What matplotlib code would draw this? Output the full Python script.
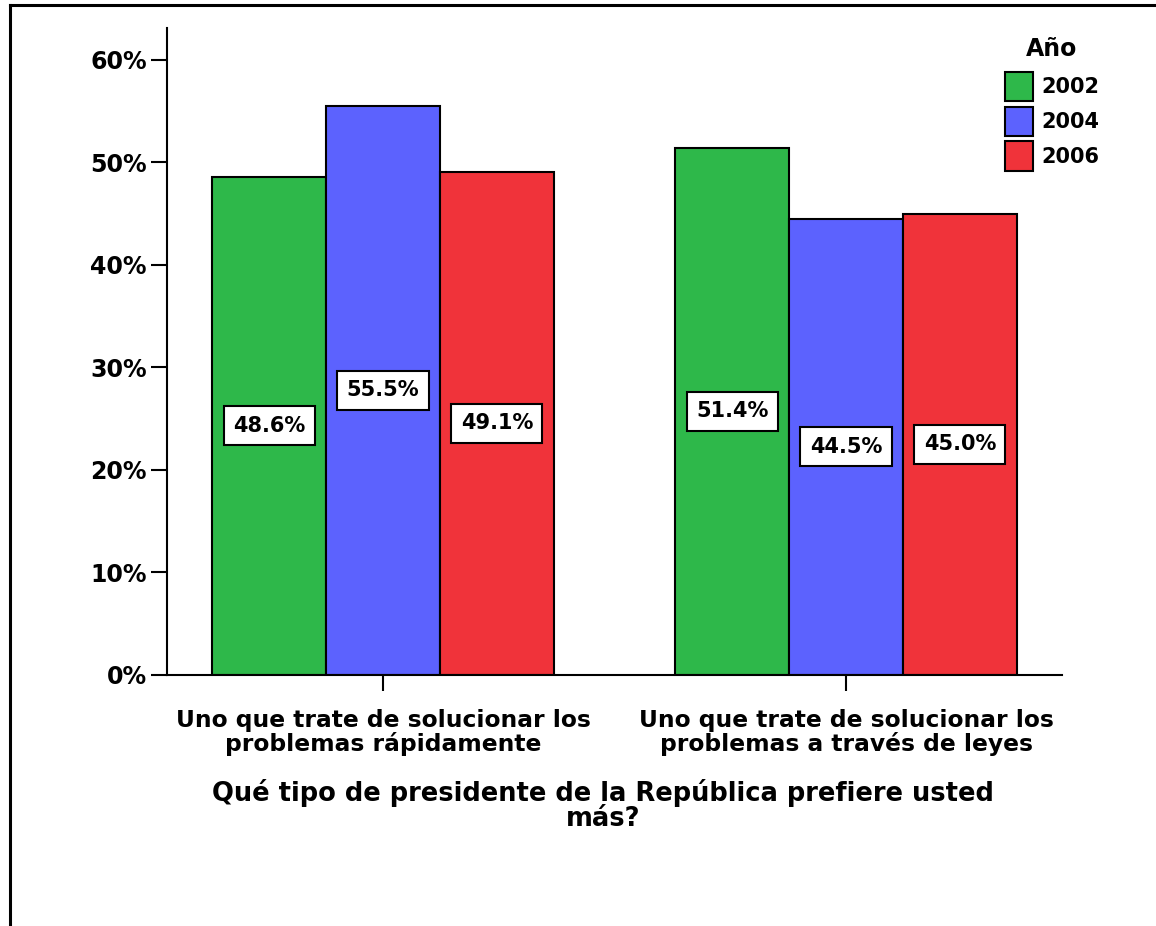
import matplotlib
matplotlib.use("Agg")
import matplotlib.pyplot as plt
from matplotlib.patches import Patch
import numpy as np

categories = ["Uno que trate de solucionar los\nproblemas rápidamente",
              "Uno que trate de solucionar los\nproblemas a través de leyes"]
years = ["2002", "2004", "2006"]
values = {
    "2002": [48.6, 51.4],
    "2004": [55.5, 44.5],
    "2006": [49.1, 45.0],
}
colors = {"2002": "#2EB84A", "2004": "#5C62FE", "2006": "#F0333A"}
yticks = [0, 10, 20, 30, 40, 50, 60]
xlabel = "Qué tipo de presidente de la República prefiere usted\nmás?"
legend_title = "Año"

FONT = ["DejaVu Sans"]
W = "bold"

fig = plt.figure(figsize=(11.56, 9.26), dpi=100)
ax = fig.add_axes([167/1156, 251/926, (1062-167)/1156, (675-28)/926])

x = np.arange(len(categories))
bw = 0.246
for i, yr in enumerate(years):
    xs = x + (i - 1) * bw
    ax.bar(xs, values[yr], width=bw, color=colors[yr], edgecolor="black", linewidth=1.5, zorder=2)
    for xi, v in zip(xs, values[yr]):
        ax.text(xi, v / 2, f"{v:.1f}%", ha="center", va="center", fontsize=15,
                family=FONT, weight=W, zorder=3,
                bbox=dict(boxstyle="square,pad=0.45", fc="white", ec="black", lw=1.5))

ax.set_xlim(-0.4665, 1.4665)
ax.set_ylim(0, 63.1)
ax.set_yticks(yticks)
ax.set_yticklabels([f"{t}%" for t in yticks], family=FONT, weight=W, fontsize=17)
ax.set_xticks(x)
ax.set_xticklabels(categories, family=FONT, weight=W, fontsize=16.8, linespacing=1.0)
ax.tick_params(axis="y", length=11.5, width=1.5, pad=3)
ax.tick_params(axis="x", length=11.5, width=1.5, pad=13)
for s in ["top", "right"]:
    ax.spines[s].set_visible(False)
for s in ["left", "bottom"]:
    ax.spines[s].set_linewidth(1.5)

fig.text(603/1156, 1 - 779/926, xlabel, ha="center", va="top", family=FONT, weight=W,
         fontsize=18.5, linespacing=0.95)

handles = [Patch(facecolor=colors[yr], edgecolor="black", linewidth=1.5, label=yr) for yr in years]
leg = fig.legend(handles=handles, title=legend_title, loc="upper left",
                 bbox_to_anchor=(986/1156, 1 - 18/926), frameon=False,
                 prop=dict(family=FONT, weight=W, size=15),
                 title_fontproperties=dict(family=FONT, weight=W, size=17),
                 handlelength=1.35, handleheight=1.8, handletextpad=0.4, labelspacing=0.25)
leg._legend_box.sep = 8

# border lines (top and left)
fig.add_artist(plt.Line2D([10/1156, 1], [1 - 5/926, 1 - 5/926], color="black", lw=2.2))
fig.add_artist(plt.Line2D([10/1156, 10/1156], [0, 1 - 5/926], color="black", lw=2.2))

fig.savefig("out.png", dpi=100)
